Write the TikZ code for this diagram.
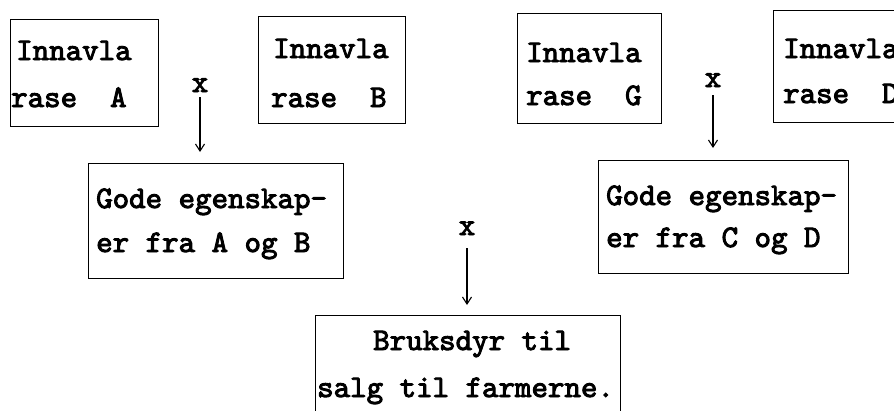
\documentclass[tikz,border=0pt]{standalone}
\usepackage{fontspec}
\newfontfamily\twfont[FakeBold=3]{lmmono10-regular.otf}
\usetikzlibrary{arrows.meta}
\begin{document}
\begin{tikzpicture}[x=1pt,y=-1pt,
  box/.style={draw, line width=1.3pt, inner sep=0pt, anchor=north west},
  lbl/.style={anchor=base west, inner sep=0pt, font=\fontsize{31.4}{34}\selectfont\twfont},
  xlbl/.style={anchor=base, inner sep=0pt, font=\fontsize{31.4}{34}\selectfont\twfont},
  arr/.style={-{Straight Barb[length=7pt,width=9pt,line width=1.1pt]}, line width=1.1pt}]
\useasboundingbox (0,0) rectangle (894,410);
% boxes
\node[box, minimum width=148pt, minimum height=107pt] (ba) at (10,19) {};
\node[box, minimum width=147pt, minimum height=107pt] (bb) at (258,16) {};
\node[box, minimum width=144pt, minimum height=110pt] (bg) at (517,13) {};
\node[box, minimum width=160pt, minimum height=112pt] (bd) at (773,10) {};
\node[box, minimum width=255pt, minimum height=115pt] (bab) at (88,163) {};
\node[box, minimum width=250pt, minimum height=113pt] (bcd) at (598,160) {};
\node[box, minimum width=305pt, minimum height=130pt] (bf) at (315,315) {};
% texts
\node[lbl] (ta1) at (16,60) {Innavla};
\node[lbl] (ta2) at (11,107) {rase\ \ A};
\node[lbl] (tb1) at (273,58) {Innavla};
\node[lbl] (tb2) at (271,107) {rase\ \ B};
\node[lbl] (tg1) at (526,62) {Innavla};
\node[lbl] (tg2) at (526,105) {rase\ \ G};
\node[lbl] (td1) at (783,58) {Innavla};
\node[lbl] (td2) at (783,103) {rase\ \ D};
\node[lbl] (tab1) at (96,208) {Gode egenskap-};
\node[lbl] (tab2) at (96,252) {er fra A og B};
\node[lbl] (tcd1) at (606,205) {Gode egenskap-};
\node[lbl] (tcd2) at (606,247) {er fra C og D};
\node[lbl] (tf1) at (373,350) {Bruksdyr til};
\node[lbl] (tf2) at (317,397) {salg til farmerne.};
% crosses
\node[xlbl] (x1) at (200,92) {x};
\node[xlbl] (x2) at (713,87) {x};
\node[xlbl] (x3) at (467,235) {x};
% arrows
\draw[arr, shorten <=5pt, shorten >=11pt] (x1.south) -- (x1.south |- bab.north);
\draw[arr, shorten <=8pt, shorten >=12pt] (x2.south) -- (x2.south |- bcd.north);
\draw[arr, shorten <=13pt, shorten >=10pt] (x3.south) -- (x3.south |- bf.north);
\end{tikzpicture}
\end{document}
